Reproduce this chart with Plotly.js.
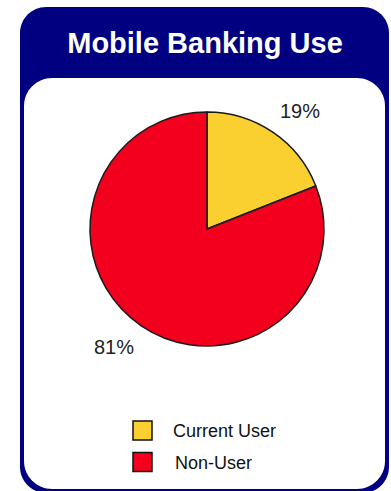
<!DOCTYPE html>
<html>
<head>
<meta charset="utf-8">
<script src="https://cdn.plot.ly/plotly-3.0.1.min.js"></script>
<style>html,body{margin:0;padding:0;background:#fff;}#chart{width:391px;height:491px;}</style>
</head>
<body>
<div id="chart"></div>
<script>
// ---- data ----
const titleText = "Mobile Banking Use";
const categories = ["Current User", "Non-User"];
const shares = [19, 81];
const sliceColors = ["#F9D030", "#F2001E"];

// ---- layout helpers ----
const W = 391, H = 491;
const X = px => (px / W).toFixed(5);
const Y = py => (1 - py / H).toFixed(5);
function roundRect(x0, y0, x1, y1, r) {
  const k = r * 0.4477;
  return [
    "M", X(x0 + r), Y(y0),
    "L", X(x1 - r), Y(y0),
    "C", X(x1 - k), Y(y0), X(x1), Y(y0 + k), X(x1), Y(y0 + r),
    "L", X(x1), Y(y1 - r),
    "C", X(x1), Y(y1 - k), X(x1 - k), Y(y1), X(x1 - r), Y(y1),
    "L", X(x0 + r), Y(y1),
    "C", X(x0 + k), Y(y1), X(x0), Y(y1 - k), X(x0), Y(y1 - r),
    "L", X(x0), Y(y0 + r),
    "C", X(x0), Y(y0 + k), X(x0 + k), Y(y0), X(x0 + r), Y(y0),
    "Z"
  ].join(" ");
}

// pie geometry (pixels)
const pieL = 90, pieR = 324, pieT = 112, pieB = 346;
const cx = (pieL + pieR) / 2, cy = (pieT + pieB) / 2;
const labelDist = 150, labelAngleShift = 4;

const shapes = [
  {type: "path", xref: "paper", yref: "paper", layer: "below",
   path: roundRect(20, 7, 389, 493, 26), fillcolor: "#000080", line: {width: 0}},
  {type: "path", xref: "paper", yref: "paper", layer: "below",
   path: roundRect(24, 78, 385, 489, 28), fillcolor: "#FFFFFF", line: {width: 0}}
];
const annotations = [];

// slice value labels, placed from each slice's mid-angle
const total = shares.reduce((a, b) => a + b, 0);
let cum = 0;
shares.forEach((v, i) => {
  const mid = ((cum + v / 2) / total) * 360 + labelAngleShift;
  cum += v;
  const a = mid * Math.PI / 180;
  annotations.push({xref: "paper", yref: "paper",
    x: X(cx + labelDist * Math.sin(a)), y: Y(cy - labelDist * Math.cos(a)),
    xanchor: "center", yanchor: "middle", showarrow: false, text: v + "%",
    font: {family: "Liberation Sans, Arial, sans-serif", size: 20, color: "#222"}});
});

// custom legend built from categories & colors
categories.forEach((c, i) => {
  const top = 421 + i * 31.5;
  shapes.push({type: "rect", xref: "paper", yref: "paper",
    x0: X(133), x1: X(152), y0: Y(top), y1: Y(top + 19),
    fillcolor: sliceColors[i], line: {color: "#111", width: 1.5}});
  annotations.push({xref: "paper", yref: "paper", x: X(171 + i * 2), y: Y(top + 10),
    xanchor: "left", yanchor: "middle", showarrow: false, text: c,
    font: {family: "Liberation Sans, Arial, sans-serif", size: 18, color: "#111"}});
});

const trace = {
  type: "pie",
  labels: categories,
  values: shares,
  sort: false,
  direction: "clockwise",
  rotation: 0,
  marker: {colors: sliceColors, line: {color: "#1a1a1a", width: 1.5}},
  textinfo: "none",
  hoverinfo: "label+percent",
  showlegend: false,
  domain: {x: [pieL / W, pieR / W], y: [1 - pieB / H, 1 - pieT / H]}
};

const layout = {
  width: W, height: H,
  margin: {l: 0, r: 0, t: 0, b: 0},
  paper_bgcolor: "#FFFFFF",
  showlegend: false,
  title: {text: "<b>" + titleText + "</b>", x: 205 / W, xanchor: "center",
          y: 1 - 43 / H, yanchor: "middle",
          font: {family: "Liberation Sans, Arial, sans-serif", size: 29, color: "#FFFFFF"}},
  shapes: shapes,
  annotations: annotations
};

Plotly.newPlot("chart", [trace], layout, {displayModeBar: false, staticPlot: true});
</script>
</body>
</html>
